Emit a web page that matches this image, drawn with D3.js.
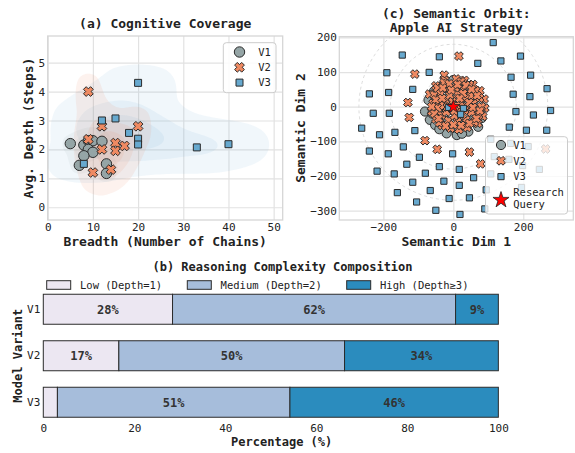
<!DOCTYPE html>
<html lang="en">
<head>
<meta charset="utf-8">
<title>Reasoning analysis</title>
<script src="https://d3js.org/d3.v7.min.js"></script>
<style>
body { margin: 0; background: #fff; }
svg text { font-family: "DejaVu Sans Mono", monospace; fill: #222; }
.tick text { font-size: 11px; }
.tick line { stroke: #e2e2e2; stroke-width: 1.2; }
.lab { font-size: 13px; font-weight: bold; }
.ttl { font-size: 13px; font-weight: bold; }
.sm { font-size: 12px; }
</style>
</head>
<body>
<div id="chart"></div>
<script>
// ---- data ----
var variants = ["V1", "V2", "V3"];
var colors = ["#95a5a6", "#ef8a62", "#67a9cf"];

// (a) breadth vs depth
var coverV1 = [[5,2.2],[8,2.15],[9,2.3],[10,2.3],[12,2.28],[9,2.0],[10,1.9],[8,1.78],[7,1.45],[13,1.5],[13,1.17]];
var coverV2 = [[9,4.0],[12,2.8],[9,2.35],[12,2.0],[10,1.2],[15,2.22],[15,1.95],[17,2.12],[14,1.3],[20,2.8]];
var coverV3 = [[20,4.3],[12,3.0],[15,3.07],[18,2.57],[20,2.37],[20,2.17],[8,1.5],[33,2.07],[40,2.18]];
var coverXTicks = [0, 10, 20, 30, 40, 50];
var coverYTicks = [0, 1, 2, 3, 4, 5];

// (b) complexity composition (%)
var levels = ["Low (Depth=1)", "Medium (Depth=2)", "High (Depth\u22653)"];
var levelColors = ["#ece7f2", "#a6bddb", "#2b8cbe"];
var lowShare = [28.4, 16.6, 3.1];
var medShare = [62.2, 49.6, 51.1];
var highShare = [9.4, 33.8, 45.8];
var pctTicks = [0, 20, 40, 60, 80, 100];

// (c) semantic orbit
var orbitV1 = [[0,77],[-71,19],[-81,-14],[-67,-38],[-52,-53],[-19,-77],[10,-82],[43,-72],[71,-58],[81,-33],[-30,62],[30,66],[60,40],[-55,45],
  [-30,10],[10,-20],[40,20],[-20,-40],[20,40],[-45,-10],[50,-40],[-10,30],[30,-50],[55,10],[0,-60],[-60,-20],[-40,-65],[25,-78],[78,-10]];
var orbitV2 = [[16,146],[-110,94],[-26,91],[-130,12],[-126,-31],[-81,-98],[-46,-123],[46,-131],[78,-165],[264,-122],
  [-50,60],[-25,76],[8,80],[32,76],[56,64],[76,46],[88,22],[90,-4],[84,-28],[70,-48],[-68,36],
  [-58,10],[-55,34],[-45,54],[-27,69],[22,72],[46,63],[64,46],[75,25],[80,0],[72,-24],[60,-44],[40,-60],[16,-66],[-8,-62],[-32,-54],[-50,-36],[-62,-14],
  [-40,14],[-36,38],[-18,52],[6,54],[30,50],[50,32],[57,9],[52,-16],[36,-38],[12,-44],[-14,-40],[-34,-24],[-44,-4],
  [-22,18],[-10,33],[12,35],[34,25],[38,0],[26,-22],[3,-26],[-20,-15],[-27,3],
  [-2,14],[20,12],[16,-8],[-5,-4],[8,4],
  [-50,20],[-40,-46],[46,-48],[68,32],[-12,66],[36,62],[-54,-20],[22,-54],[0,-52],[66,-34],[-30,54],[52,50],[28,38],[-32,24],[-6,48],[45,12],[-17,-1],[18,24],[3,-12],[32,-10],[-42,-34],[56,-2],[12,64],[-22,-56],[76,-12],[-62,0]];
var orbitV3 = [[114,185],[-146,149],[-40,144],[70,125],[136,132],[192,146],[-190,98],[-69,99],[165,85],[221,91],[-116,50],[-240,37],[-185,41],[171,36],[219,29],[268,52],
  [-229,-19],[-183,-19],[179,-14],[229,-24],[278,-11],[-14,-2],[29,-5],[21,-22],[-262,-62],[-211,-81],[-167,-74],[-110,-69],[160,-59],[209,-68],[267,-68],
  [-240,-128],[-186,-136],[-143,-116],[-97,-146],[-2,-136],[-40,-173],[-133,-166],[-218,-186],[-169,-194],[-80,-192],[17,-181],[58,-205],[-116,-218],[-27,-215],[17,-227],
  [-160,-248],[-66,-242],[94,-240],[-105,-275],[-12,-265],[46,-263],[-50,-299],[19,-311],[90,-295],
  [107,-94],[164,-106],[214,-115],[117,-144],[159,-152],[198,-170],[246,-181],[107,-194],[195,-233]];
var queryPoint = [0, 0];
var orbitRings = [90, 180, 270];
var orbitXTicks = [-200, 0, 200];
var orbitYTicks = [-300, -200, -100, 0, 100, 200];

// ---- helpers ----
var svg = d3.select("#chart").append("svg").attr("width", 575).attr("height", 453);

function xPath(s)
{
    var a = s, b = s * 0.38;
    var p = [[-b,-a],[b,-a],[b,-b],[a,-b],[a,b],[b,b],[b,a],[-b,a],[-b,b],[-a,b],[-a,-b],[-b,-b]];
    var c = Math.SQRT1_2;
    p = p.map(function(q) { return [(q[0] - q[1]) * c, (q[0] + q[1]) * c]; });
    return d3.line()(p) + "Z";
}
function squarePath(s)
{
    return "M" + (-s/2) + "," + (-s/2) + "h" + s + "v" + s + "h" + (-s) + "Z";
}
function circlePath(r)
{
    return d3.symbol(d3.symbolCircle, Math.PI * r * r)();
}
function markerPaths(big)
{
    return big ? [circlePath(5.2), xPath(5.0), squarePath(7)] : [circlePath(4.6), xPath(4.5), squarePath(6.2)];
}

function drawPoints(g, pts, xs, ys, d, fill)
{
    g.selectAll(null).data(pts).enter().append("path")
        .attr("d", d)
        .attr("transform", function(p) { return "translate(" + xs(p[0]) + "," + ys(p[1]) + ")"; })
        .attr("fill", fill)
        .attr("stroke", "#2b2b2b")
        .attr("stroke-width", 1);
}

function gridAxes(g, xs, ys, xt, yt)
{
    var x0 = xs.range()[0], x1 = xs.range()[1];
    var y0 = ys.range()[0], y1 = ys.range()[1];
    g.append("g").attr("transform", "translate(0," + y0 + ")")
        .call(d3.axisBottom(xs).tickValues(xt).tickSize(-(y0 - y1)).tickPadding(3.5).tickFormat(d3.format("d")))
        .call(function(a) { a.select(".domain").remove(); });
    g.append("g").attr("transform", "translate(" + x0 + ",0)")
        .call(d3.axisLeft(ys).tickValues(yt).tickSize(-(x1 - x0)).tickPadding(2.5).tickFormat(d3.format("d")))
        .call(function(a) { a.select(".domain").remove(); });
    g.selectAll(".tick text").attr("fill", "#222").style("fill", "#222");
}

function frame(g, xs, ys)
{
    g.append("rect")
        .attr("x", xs.range()[0]).attr("y", ys.range()[1])
        .attr("width", xs.range()[1] - xs.range()[0])
        .attr("height", ys.range()[0] - ys.range()[1])
        .attr("fill", "none").attr("stroke", "#d6d6d6").attr("stroke-width", 1.3);
}

function kde(g, pts, xs, ys, color, alpha)
{
    var P = pts.map(function(p) { return [xs(p[0]), ys(p[1])]; });
    var f = Math.pow(P.length, -1/6);
    var sx = d3.deviation(P, function(p) { return p[0]; }) * f;
    var sy = d3.deviation(P, function(p) { return p[1]; }) * f;
    var K = 20, pad = 4 * K;
    var mx = d3.min(P, function(p) { return p[0]; }), my = d3.min(P, function(p) { return p[1]; });
    var U = P.map(function(p) { return [(p[0] - mx) / sx * K + pad, (p[1] - my) / sy * K + pad]; });
    var w = d3.max(U, function(u) { return u[0]; }) + pad;
    var h = d3.max(U, function(u) { return u[1]; }) + pad;
    var dens = d3.contourDensity().x(function(u) { return u[0]; }).y(function(u) { return u[1]; })
        .size([w, h]).bandwidth(K).cellSize(2);
    var contour = dens.contours(U);
    var proj = d3.geoTransform({ point: function(u, v) {
        this.stream.point((u - pad) / K * sx + mx, (v - pad) / K * sy + my);
    }});
    var path = d3.geoPath(proj);
    [0.14, 0.45, 0.75].forEach(function(t)
    {
        g.append("path").attr("d", path(contour(contour.max * t)))
            .attr("fill", color).attr("fill-opacity", alpha).attr("stroke", "none");
    });
}

// ---- (a) Cognitive Coverage ----
var ax = d3.scaleLinear().domain([0, 52]).range([47.7, 282.7]);
var ay = d3.scaleLinear().domain([-0.44, 5.92]).range([220, 36]);
var ga = svg.append("g");
gridAxes(ga, ax, ay, coverXTicks, coverYTicks);
ga.append("defs").append("clipPath").attr("id", "clipA").append("rect")
    .attr("x", 47.7).attr("y", 36).attr("width", 235).attr("height", 184);
var kg = ga.append("g").attr("clip-path", "url(#clipA)");
var coverSets = [coverV1, coverV2, coverV3];
kde(kg, coverV3, ax, ay, colors[2], 0.09);
kde(kg, coverV1, ax, ay, colors[0], 0.09);
kde(kg, coverV2, ax, ay, colors[1], 0.11);
frame(ga, ax, ay);
var mkA = markerPaths(true);
coverSets.forEach(function(s, i) { drawPoints(ga, s, ax, ay, mkA[i], colors[i]); });

ga.append("text").attr("class", "ttl").attr("x", 165.2).attr("y", 28).attr("text-anchor", "middle").text("(a) Cognitive Coverage");
ga.append("text").attr("class", "lab").attr("x", 165.2).attr("y", 245.5).attr("text-anchor", "middle").text("Breadth (Number of Chains)");
ga.append("text").attr("class", "lab").attr("transform", "translate(32.5,128) rotate(-90)").attr("text-anchor", "middle").text("Avg. Depth (Steps)");

var la = ga.append("g");
la.append("rect").attr("x", 223.3).attr("y", 42.7).attr("width", 52.7).attr("height", 50).attr("rx", 3)
    .attr("fill", "#fff").attr("fill-opacity", 0.85).attr("stroke", "#cccccc");
variants.forEach(function(v, i)
{
    var yy = 52 + i * 15.3;
    la.append("path").attr("d", mkA[i]).attr("transform", "translate(239.5," + yy + ")")
        .attr("fill", colors[i]).attr("stroke", "#2b2b2b").attr("stroke-width", 1);
    la.append("text").attr("x", 258.3).attr("y", yy + 3.8).style("font-size", "10.5px").text(v);
});

// ---- (c) Semantic Orbit ----
var cx = d3.scaleLinear().domain([-326, 343]).range([339.3, 573.3]);
var cy = d3.scaleLinear().domain([-327, 202]).range([220, 36.7]);
var gc = svg.append("g");
gridAxes(gc, cx, cy, orbitXTicks, orbitYTicks);
gc.append("defs").append("clipPath").attr("id", "clipC").append("rect")
    .attr("x", 339.3).attr("y", 36.7).attr("width", 234).attr("height", 183.3);
var pc = gc.append("g").attr("clip-path", "url(#clipC)");
pc.selectAll(null).data(orbitRings).enter().append("ellipse")
    .attr("cx", cx(0)).attr("cy", cy(0))
    .attr("rx", function(r) { return cx(r) - cx(0); })
    .attr("ry", function(r) { return cy(0) - cy(r); })
    .attr("fill", "none").attr("stroke", "#d8d8d8").attr("stroke-width", 0.9).attr("stroke-dasharray", "3,3");
frame(gc, cx, cy);
var mkC = markerPaths(false);
[orbitV1, orbitV2, orbitV3].forEach(function(s, i) { drawPoints(pc, s, cx, cy, mkC[i], colors[i]); });
var starPath = d3.symbol(d3.symbolStar, 55)();
pc.append("path").attr("d", starPath)
    .attr("transform", "translate(" + cx(queryPoint[0]) + "," + cy(queryPoint[1]) + ")")
    .attr("fill", "#ff0000").attr("stroke", "#222").attr("stroke-width", 0.8);

gc.append("text").attr("class", "ttl").attr("x", 456.3).attr("y", 17.5).attr("text-anchor", "middle").text("(c) Semantic Orbit:");
gc.append("text").attr("class", "ttl").attr("x", 456.3).attr("y", 31.5).attr("text-anchor", "middle").text("Apple AI Strategy");
gc.append("text").attr("class", "lab").attr("x", 456.3).attr("y", 245.5).attr("text-anchor", "middle").text("Semantic Dim 1");
gc.append("text").attr("class", "lab").attr("transform", "translate(304.5,128) rotate(-90)").attr("text-anchor", "middle").text("Semantic Dim 2");

var lc = gc.append("g");
lc.append("rect").attr("x", 485.5).attr("y", 136.7).attr("width", 82).attr("height", 77.3).attr("rx", 3)
    .attr("fill", "#fff").attr("fill-opacity", 0.8).attr("stroke", "#cccccc");
variants.forEach(function(v, i)
{
    var yy = 145 + i * 15.8;
    lc.append("path").attr("d", mkC[i]).attr("transform", "translate(501," + yy + ")")
        .attr("fill", colors[i]).attr("stroke", "#2b2b2b").attr("stroke-width", 1);
    lc.append("text").attr("x", 513.3).attr("y", yy + 3.8).style("font-size", "10.5px").text(v);
});
lc.append("path").attr("d", d3.symbol(d3.symbolStar, 80)()).attr("transform", "translate(501,200)")
    .attr("fill", "#ff0000").attr("stroke", "#222").attr("stroke-width", 0.8);
lc.append("text").attr("x", 513.3).attr("y", 196).style("font-size", "10.5px").text("Research");
lc.append("text").attr("x", 513.3).attr("y", 207.5).style("font-size", "10.5px").text("Query");

// ---- (b) Reasoning Complexity Composition ----
var bx = d3.scaleLinear().domain([0, 105]).range([43.3, 521.1]);
var by = d3.scaleBand().domain(variants).range([286, 425.5]).paddingInner(0.355).paddingOuter(0.1775);
var gb = svg.append("g");
var rows = variants.map(function(v, i) { return { v: v, parts: [lowShare[i], medShare[i], highShare[i]] }; });
var stackData = rows.map(function(r) { var o = { v: r.v }; levels.forEach(function(l, j) { o[l] = r.parts[j]; }); return o; });
var series = d3.stack().keys(levels)(stackData);
series.forEach(function(s, j)
{
    var sg = gb.append("g");
    sg.selectAll("rect").data(s).enter().append("rect")
        .attr("x", function(d) { return bx(d[0]); })
        .attr("y", function(d) { return by(d.data.v); })
        .attr("width", function(d) { return bx(d[1]) - bx(d[0]); })
        .attr("height", by.bandwidth())
        .attr("fill", levelColors[j]).attr("stroke", "#2b2b2b").attr("stroke-width", 1);
    sg.selectAll("text").data(s.filter(function(d) { return d[1] - d[0] >= 5; })).enter().append("text")
        .attr("x", function(d) { return (bx(d[0]) + bx(d[1])) / 2; })
        .attr("y", function(d) { return by(d.data.v) + by.bandwidth() / 2 + 4.3; })
        .attr("text-anchor", "middle")
        .style("font-size", "12px").style("font-weight", "bold").style("fill", "#333")
        .text(function(d) { return d3.format(".0f")(d[1] - d[0]) + "%"; });
});
gb.append("g").attr("transform", "translate(0,417)")
    .call(d3.axisBottom(bx).tickValues(pctTicks).tickSize(0).tickPadding(7))
    .call(function(a) { a.select(".domain").remove(); });
gb.append("g").attr("transform", "translate(43.3,0)")
    .call(d3.axisLeft(by).tickSize(0).tickPadding(3))
    .call(function(a) { a.select(".domain").remove(); });

gb.append("text").attr("class", "ttl sm").attr("x", 282.5).attr("y", 270.5).attr("text-anchor", "middle").text("(b) Reasoning Complexity Composition");
gb.append("text").attr("class", "lab sm").attr("x", 281.7).attr("y", 446).attr("text-anchor", "middle").text("Percentage (%)");
gb.append("text").attr("class", "lab sm").attr("transform", "translate(22,355.7) rotate(-90)").attr("text-anchor", "middle").text("Model Variant");

var legX = [46.7, 187.3, 346.7];
levels.forEach(function(l, j)
{
    gb.append("rect").attr("x", legX[j]).attr("y", 280.7).attr("width", 24).attr("height", 8.6)
        .attr("fill", levelColors[j]).attr("stroke", "#2b2b2b").attr("stroke-width", 1);
    gb.append("text").attr("x", legX[j] + 33.3).attr("y", 288.7).style("font-size", "10.5px").text(l);
});
</script>
</body>
</html>
